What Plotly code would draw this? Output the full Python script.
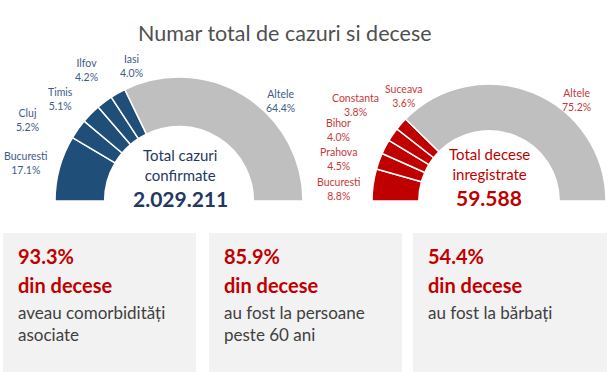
import plotly.graph_objects as go

W, H = 609, 378

# ---------------- data ----------------
title_text = "Numar total de cazuri si decese"

cases_labels = ["Bucuresti", "Cluj", "Timis", "Ilfov", "Iasi", "Altele"]
cases_values = [17.1, 5.2, 5.1, 4.2, 4.0, 64.4]
cases_total = "2.029.211"
cases_center = "Total cazuri<br>confirmate"

deaths_labels = ["Bucuresti", "Prahova", "Bihor", "Constanta", "Suceava", "Altele"]
deaths_values = [8.8, 4.5, 4.0, 3.8, 3.6, 75.2]
deaths_total = "59.588"
deaths_center = "Total decese<br>inregistrate"

box_pcts = ["93.3%", "85.9%", "54.4%"]
box_heads = ["din decese", "din decese", "din decese"]
box_texts = ["aveau comorbidități<br>asociate", "au fost la persoane<br>peste 60 ani", "au fost la bărbați"]

# ---------------- styles / layout ----------------
FONT = "Lato"
BLUE = "#1F4E79"
RED = "#C00000"
GREY = "#BFBFBF"
LBL_BLUE = "#3E5C8A"
LBL_RED = "#C83A3A"

def px(x):
    return x / W

def py(y):
    return 1 - y / H

# label positions (pixel centres) for each slice label
cases_lbl_pos = [(26, 163), (27, 120), (60, 99), (86, 70), (131, 66), (280, 101)]
deaths_lbl_pos = [(339, 189), (338, 159), (338, 130), (355, 105), (404, 96), (576, 100)]

fig = go.Figure()

def half_donut(labels, values, colors, cx, cy, R):
    hidden = sum(values)
    vals = list(values) + [hidden]
    cols = list(colors) + ["rgba(0,0,0,0)"]
    widths = [1.5] * len(values) + [0]
    fig.add_trace(go.Pie(
        labels=list(labels) + ["_hidden"],
        values=vals,
        sort=False,
        direction="clockwise",
        rotation=-90,
        hole=0.6,
        textinfo="none",
        hoverinfo="skip",
        marker=dict(colors=cols, line=dict(color="white", width=widths)),
        domain=dict(x=[px(cx - R), px(cx + R)], y=[py(cy + R), py(cy - R)]),
        showlegend=False,
    ))

half_donut(cases_labels, cases_values, [BLUE] * 5 + [GREY], 179, 201, 124)
half_donut(deaths_labels, deaths_values, [RED] * 5 + [GREY], 489, 201, 117)

ann = []
ann.append(dict(x=px(285), y=py(33), text=title_text, showarrow=False,
                font=dict(family=FONT, size=21.5, color="#505050"),
                xanchor="center", yanchor="middle"))

for lab, val, (x, y) in zip(cases_labels, cases_values, cases_lbl_pos):
    ann.append(dict(x=px(x), y=py(y), text=f"{lab}<br>{val:.1f}%", showarrow=False,
                    font=dict(family=FONT, size=10.5, color=LBL_BLUE),
                    xanchor="center", yanchor="middle"))
for lab, val, (x, y) in zip(deaths_labels, deaths_values, deaths_lbl_pos):
    ann.append(dict(x=px(x), y=py(y), text=f"{lab}<br>{val:.1f}%", showarrow=False,
                    font=dict(family=FONT, size=10.5, color=LBL_RED),
                    xanchor="center", yanchor="middle"))

# centre texts
ann.append(dict(x=px(180), y=py(165), text=cases_center, showarrow=False,
                font=dict(family=FONT, size=15, color="#1F3864"),
                xanchor="center", yanchor="middle"))
ann.append(dict(x=px(180), y=py(198), text=f"<b>{cases_total}</b>", showarrow=False,
                font=dict(family=FONT, size=21, color="#1F3864"),
                xanchor="center", yanchor="middle"))
ann.append(dict(x=px(489), y=py(164), text=deaths_center, showarrow=False,
                font=dict(family=FONT, size=15, color=RED),
                xanchor="center", yanchor="middle"))
ann.append(dict(x=px(489), y=py(197), text=f"<b>{deaths_total}</b>", showarrow=False,
                font=dict(family=FONT, size=21, color=RED),
                xanchor="center", yanchor="middle"))

# boxes
box_x = [(3, 196), (209, 402), (413, 607)]
shapes = []
for (x0, x1), pct, head, txt in zip(box_x, box_pcts, box_heads, box_texts):
    shapes.append(dict(type="rect", xref="paper", yref="paper",
                       x0=px(x0), x1=px(x1), y0=py(372), y1=py(233),
                       fillcolor="#F2F2F2", line=dict(width=0), layer="below"))
    ann.append(dict(x=px(x0 + 13), y=py(256), text=f"<b>{pct}</b>", showarrow=False,
                    font=dict(family=FONT, size=20, color=RED),
                    xanchor="left", yanchor="middle"))
    ann.append(dict(x=px(x0 + 13), y=py(285), text=f"<b>{head}</b>", showarrow=False,
                    font=dict(family=FONT, size=20, color=RED),
                    xanchor="left", yanchor="middle"))
    ann.append(dict(x=px(x0 + 13), y=py(300), text=txt, showarrow=False, align="left",
                    font=dict(family=FONT, size=17, color="#404040"),
                    xanchor="left", yanchor="top"))

fig.update_layout(
    width=W, height=H,
    margin=dict(l=0, r=0, t=0, b=0),
    paper_bgcolor="white", plot_bgcolor="white",
    annotations=ann, shapes=shapes,
    showlegend=False,
)

fig.write_html("out.html", config={"displayModeBar": False},
               post_script="document.body.style.margin='0';document.body.style.overflow='hidden';")
